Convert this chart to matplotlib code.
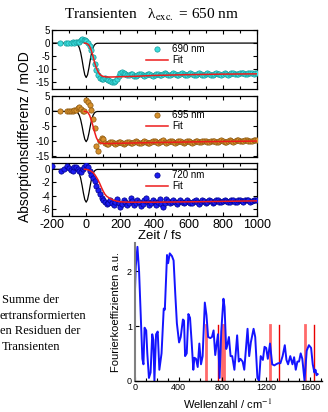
import numpy as np
import matplotlib

matplotlib.use("Agg")
import matplotlib.pyplot as plt
from matplotlib.ticker import MultipleLocator

plt.rcParams["font.family"] = ["Liberation Sans", "DejaVu Sans"]
plt.rcParams["axes.unicode_minus"] = False
plt.rcParams["mathtext.fontset"] = "stix"

# ---------------- data ----------------
# transient 690 nm
t1_pre = [-153, -118, -105, -91, -80, -70, -60, -50, -40, -30, -22, -15, -8]
v1_pre = [0.1, 0.0, 0.2, 0.1, 0.3, 0.2, 0.4, 0.5, 0.6, 1.2, 1.6, 1.3, 1.0]
v1_post = [0.8, 0.2, -1.0, -2.8, -5.2, -8.0, -10.5, -12.3, -13.2, -13.6,
           -13.8, -13.5, -13.9, -14.2, -14.6, -14.9, -15.0, -14.6, -13.8, -12.6,
           -11.4, -11.0, -11.3, -11.9, -12.4, -12.2, -11.8, -12.0, -12.5, -12.6,
           -12.1, -11.7, -11.9, -12.4, -12.6, -12.2, -11.8, -11.9, -12.3, -12.5,
           -12.1, -11.7, -11.8, -12.3, -12.4, -12.0, -11.6, -11.8, -12.2, -12.4,
           -12.0, -11.5, -11.7, -12.2, -12.3, -11.9, -11.6, -11.9, -12.4, -12.2,
           -11.7, -11.5, -11.8, -12.3, -12.4, -11.9, -11.6, -11.8, -12.2, -12.3,
           -11.8, -11.5, -11.7, -12.1, -12.2, -11.9, -11.6, -11.7, -12.0, -12.1,
           -11.7, -11.5, -11.8, -12.1, -12.0, -11.6, -11.4, -11.7, -12.0, -11.9,
           -11.5, -11.3, -11.6, -11.9, -11.8, -11.4, -11.3, -11.6, -11.8, -11.6,
           -11.5]
fit1_t = [-10, 0, 10, 20, 30, 40, 50, 60, 70, 80, 90, 100, 120, 150, 200, 300, 400, 600, 800, 1000]
fit1_v = [0, -0.1, -0.4, -1.2, -2.8, -5.0, -7.6, -9.6, -11.0, -12.0, -12.5, -12.8, -13.0, -13.0,
          -12.9, -12.7, -12.4, -12.1, -11.9, -11.8]

# transient 695 nm
t2_pre = [-153, -114, -100, -90, -80, -70, -60, -50, -40, -30, -20, -10]
v2_pre = [0.0, 0.0, 0.1, 0.0, 0.2, 0.3, 0.4, 1.1, 1.6, 0.9, 0.2, 0.1]
v2_post = [3.7, 3.0, 2.2, 0.5, -2.5, -5.5, -11.5, -13.2, -10.0, -9.0,
           -9.3, -10.6, -11.0, -10.8, -10.3, -10.2, -10.6, -10.9, -10.5, -10.1,
           -10.3, -10.7, -10.8, -10.4, -10.1, -10.3, -10.7, -10.6, -10.2, -10.0,
           -10.3, -10.6, -10.5, -10.1, -9.9, -10.2, -10.5, -10.6, -10.2, -9.8,
           -9.9, -10.3, -10.5, -10.2, -9.8, -9.7, -10.1, -10.4, -10.3, -9.9,
           -9.8, -10.1, -10.4, -10.3, -10.0, -9.9, -10.2, -10.4, -10.2, -9.9,
           -10.0, -10.3, -10.4, -10.1, -9.9, -10.0, -10.3, -10.3, -10.0, -9.8,
           -10.0, -10.2, -10.2, -9.9, -9.8, -10.0, -10.2, -10.1, -9.8, -9.7,
           -9.9, -10.1, -10.1, -9.8, -9.7, -9.9, -10.1, -10.0, -9.7, -9.6,
           -9.8, -10.0, -10.0, -9.7, -9.6, -9.8, -10.0, -9.9, -9.7, -9.6,
           -9.7]
fit2_t = [-10, 0, 10, 20, 30, 40, 50, 60, 70, 80, 90, 100, 150, 300, 500, 700, 1000]
fit2_v = [0, -0.1, -0.4, -1.3, -2.9, -4.9, -7.0, -8.8, -9.9, -10.4, -10.6, -10.7, -10.7,
          -10.5, -10.3, -10.1, -9.9]

# transient 720 nm
t3_pre = [-200, -147, -130, -114, -100, -90, -80, -70, -60, -50, -40, -30, -20, -10]
v3_pre = [0.45, -0.25, 0.0, 0.5, 0.2, -0.1, -0.3, 0.3, 0.4, 0.1, -0.3, -0.4, 0.1, 0.3]
v3_post = [0.6, 0.4, -0.2, -0.8, -1.3, -1.8, -2.5, -3.2, -3.8, -4.3,
           -4.7, -5.0, -5.3, -5.1, -4.6, -5.2, -5.5, -5.0, -4.5, -5.2,
           -5.8, -5.3, -4.6, -4.9, -5.5, -5.1, -4.4, -4.8, -5.4, -5.2,
           -4.6, -5.0, -5.6, -5.3, -4.7, -4.3, -5.0, -5.5, -5.2, -4.6,
           -4.9, -5.4, -5.0, -4.5, -5.3, -5.8, -5.1, -4.5, -4.8, -5.2,
           -4.9, -4.6, -5.0, -5.3, -5.0, -4.7, -4.9, -5.2, -5.0, -4.7,
           -4.9, -5.2, -5.1, -4.8, -4.7, -5.0, -5.3, -5.0, -4.7, -4.8,
           -5.1, -5.0, -4.7, -4.8, -5.1, -5.0, -4.7, -4.6, -4.9, -5.0,
           -4.8, -4.6, -4.8, -5.0, -4.9, -4.6, -4.7, -4.9, -4.9, -4.7,
           -4.6, -4.8, -4.9, -4.7, -4.6, -4.7, -4.9, -4.8, -4.6, -4.6,
           -4.7]
fit3_t = [-10, 0, 10, 20, 30, 40, 50, 60, 70, 80, 90, 100, 110, 120, 140, 160, 180, 200,
          250, 400, 600, 800, 1000]
fit3_v = [0, -0.02, -0.08, -0.18, -0.32, -0.5, -0.8, -1.2, -1.65, -2.2, -2.8, -3.35, -3.8,
          -4.1, -4.45, -4.7, -4.85, -4.95, -5.0, -5.0, -4.95, -4.88, -4.8]

t_post = np.arange(0, 1001, 10)

# pump-probe cross correlation (black), scaled per panel
irf_t = [-200, -64, -56, -48, -40, -32, -24, -16, -8, 0, 8, 16, 24, 32, 40, 48, 56, 64, 1000]
irf_shape = [0, -0.006, -0.02, -0.056, -0.135, -0.278, -0.487, -0.726, -0.923, -1.0,
             -0.923, -0.726, -0.487, -0.278, -0.135, -0.056, -0.02, -0.006, 0]
irf_depth = [13.2, 10.1, 5.0]

# Fourier spectrum of residuals
wn = [0, 10, 25, 40, 55, 70, 80, 90, 105, 115, 130, 145, 160, 170, 180, 195, 210, 225, 245,
      265, 275, 295, 305, 320, 340, 355, 370, 385, 405, 420, 440, 450, 460, 475, 490, 505,
      520, 535, 545, 560, 575, 590, 605, 620, 640, 655, 670, 690, 705, 720, 735, 750, 760,
      775, 790, 810, 820, 835, 845, 860, 875, 890, 910, 935, 950, 965, 985, 1000, 1030,
      1045, 1060, 1085, 1100, 1120, 1135, 1150, 1170, 1185, 1200, 1215, 1235, 1255, 1275,
      1290, 1310, 1330, 1350, 1370, 1385, 1400, 1420, 1440, 1455, 1470, 1485, 1500, 1515,
      1530, 1550, 1570, 1590, 1610, 1625, 1640, 1650, 1660, 1670]
fc = [1.5, 2.1, 2.45, 2.0, 1.2, 0.4, 0.3, 0.97, 0.92, 0.5, 0.05, 0.15, 0.85, 0.75, 0.0,
      0.85, 0.9, 0.2, 0.5, 1.32, 1.3, 2.3, 2.15, 2.33, 2.28, 2.2, 1.6, 1.05, 0.7, 0.8,
      1.12, 1.1, 0.45, 0.5, 1.22, 1.15, 0.7, 0.2, 0.42, 0.4, 0.25, 0.68, 0.3, 0.45, 1.43,
      1.2, 0.8, 0.78, 0.8, 0.92, 0.47, 0.7, 0.85, 0.05, 0.9, 1.5, 1.35, 0.58, 0.65, 0.8,
      0.45, 0.45, 0.2, 0.83, 0.35, 0.4, 0.35, 0.2, 0.95, 0.45, 0.7, 0.95, 0.8, 0.05, 0.0,
      0.45, 0.38, 0.62, 0.6, 0.4, 0.68, 0.3, 0.28, 0.3, 0.32, 0.32, 0.45, 0.65, 0.38, 0.3,
      0.45, 0.3, 0.43, 0.2, 0.35, 0.35, 0.5, 0.4, 0.0, 0.55, 0.65, 0.6, 0.3, 0.15, 0.2,
      0.1, 0.12]
modes_light = [654, 793, 811, 1236, 1554]
modes_dark = [757, 1315, 1636]
mode_height = 1.02

W, H = 328, 412


def px_axes(fig, left, top, right, bottom):
    return fig.add_axes([left / W, 1 - bottom / H, (right - left) / W, (bottom - top) / H])


# ---------------- figure ----------------
fig = plt.figure(figsize=(W / 100, H / 100), dpi=100)

panels = [
    dict(box=(52, 29.5, 257, 89), ylim=(-17.6, 5.2), yticks=[5, 0, -5, -10, -15],
         tp=t1_pre, vp=v1_pre, vpost=v1_post, ft=fit1_t, fv=fit1_v, label="690 nm",
         fc="#3cdcdc", ec="#149a9a", leg_top=44),
    dict(box=(52, 96, 257, 157), ylim=(-15.2, 5.1), yticks=[5, 0, -5, -10, -15],
         tp=t2_pre, vp=v2_pre, vpost=v2_post, ft=fit2_t, fv=fit2_v, label="695 nm",
         fc="#d6902c", ec="#8a5710", leg_top=110),
    dict(box=(52, 163, 257, 216), ylim=(-7.1, 0.95), yticks=[0, -2, -4, -6],
         tp=t3_pre, vp=v3_pre, vpost=v3_post, ft=fit3_t, fv=fit3_v, label="720 nm",
         fc="#1c1cf0", ec="#00008a", leg_top=170),
]

for i, p in enumerate(panels):
    ax = px_axes(fig, *p["box"])
    tt = list(p["tp"]) + list(t_post)
    vv = list(p["vp"]) + list(p["vpost"])
    ax.plot(irf_t, [s * irf_depth[i] for s in irf_shape], color="black", lw=0.9, zorder=2)
    ax.plot(tt, vv, ls="none", marker="o", ms=3.8, mfc=p["fc"], mec=p["ec"], mew=0.5,
            zorder=3, label=p["label"])
    ax.plot(p["ft"], p["fv"], color="#ee1c1c", lw=1.1, zorder=4, label="Fit")
    ax.set_xlim(-200, 1000)
    ax.set_ylim(*p["ylim"])
    ax.set_yticks(p["yticks"])
    ax.xaxis.set_major_locator(MultipleLocator(200))
    ax.xaxis.set_minor_locator(MultipleLocator(100))
    ax.tick_params(which="both", direction="in", top=True, right=True, width=0.8)
    ax.tick_params(which="major", length=3)
    ax.tick_params(which="minor", length=2)
    ax.tick_params(axis="y", labelsize=7, pad=1.5)
    ax.tick_params(axis="x", labelsize=9, pad=2.5)
    for s in ax.spines.values():
        s.set_linewidth(0.9)
    if i < 2:
        ax.tick_params(axis="x", labelbottom=False)
    ax.legend(loc="upper left", bbox_to_anchor=(146 / W, 1 - p["leg_top"] / H),
              bbox_transform=fig.transFigure, frameon=False, fontsize=7, numpoints=1,
              handlelength=2.3, handletextpad=0.35, labelspacing=0.15, borderpad=0,
              borderaxespad=0)

fig.text(25 / W, 1 - 137 / H, "Absorptionsdifferenz / mOD", rotation=90, fontsize=10,
         ha="center", va="center")
fig.text(160 / W, 1 - 236 / H, "Zeit / fs", fontsize=9.5, ha="center", va="center")
fig.text(151 / W, 1 - 14.5 / H, "Transienten   λ$_{\\mathrm{exc.}}$ = 650 nm",
         fontsize=11, ha="center", va="center", family=["Liberation Serif"])

# side note (cut off at the left edge in the original)
note_lines = ["Summe der", "ertransformierten", "en Residuen der", "Transienten"]
note_x = [2, 0, 0, 2]
note_y = [300, 316, 331, 347]
for s, x, y in zip(note_lines, note_x, note_y):
    fig.text(x / W, 1 - y / H, s, fontsize=9, ha="left", va="center",
             family=["Liberation Serif"])

# Fourier panel
axf = px_axes(fig, 134.7, 243, 321.5, 380.7)
for m in modes_light:
    axf.plot([m, m], [0, mode_height], color="#ff6a6a", lw=2.0, zorder=1)
for m in modes_dark:
    axf.plot([m, m], [0, mode_height], color="#e80000", lw=1.0, zorder=1)
axf.plot(wn, fc, color="#1414ff", lw=1.4, zorder=2)
axf.set_xlim(0, 1705)
axf.set_ylim(0, 2.52)
axf.set_yticks([0, 1, 2])
axf.xaxis.set_major_locator(MultipleLocator(400))
axf.xaxis.set_minor_locator(MultipleLocator(100))
axf.spines["top"].set_visible(False)
axf.spines["right"].set_visible(False)
axf.spines["left"].set_color("#808080")
axf.spines["left"].set_linewidth(1.5)
axf.spines["bottom"].set_linewidth(1.0)
axf.tick_params(which="both", direction="in", width=0.8, labelsize=6.5)
axf.tick_params(which="major", length=3, pad=2)
axf.tick_params(which="minor", length=2)
axf.set_ylabel("Fourierkoeffizienten a.u.", fontsize=8, labelpad=4)
fig.text(228 / W, 1 - 404 / H, "Wellenzahl / cm$^{-1}$", fontsize=8, ha="center",
         va="center")

fig.savefig("out.png", dpi=100)
